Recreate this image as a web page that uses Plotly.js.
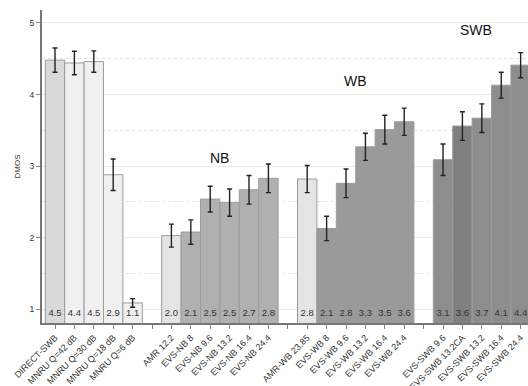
<!DOCTYPE html>
<html>
<head>
<meta charset="utf-8">
<script src="https://cdn.plot.ly/plotly-3.0.1.min.js"></script>
<style>html,body{margin:0;padding:0;background:#fff;}#chart{width:528px;height:386px;}</style>
</head>
<body>
<div id="chart"></div>
<script>
// ---- data ----
const refCats = ["DIRECT-SWB", "MNRU Q=42 dB", "MNRU Q=30 dB", "MNRU Q=18 dB", "MNRU Q=6 dB"];
const refVals = [4.48, 4.44, 4.46, 2.88, 1.09];
const refErr  = [0.17, 0.165, 0.15, 0.22, 0.06];

const nbCats = ["AMR 12.2", "EVS-NB 8", "EVS-NB 9.6", "EVS-NB 13.2", "EVS-NB 16.4", "EVS-NB 24.4"];
const nbVals = [2.03, 2.08, 2.54, 2.49, 2.67, 2.83];
const nbErr  = [0.16, 0.17, 0.18, 0.19, 0.20, 0.20];

const wbCats = ["AMR-WB 23.85", "EVS-WB 8", "EVS-WB 9.6", "EVS-WB 13.2", "EVS-WB 16.4", "EVS-WB 24.4"];
const wbVals = [2.82, 2.13, 2.76, 3.27, 3.51, 3.62];
const wbErr  = [0.19, 0.17, 0.20, 0.19, 0.20, 0.19];

const swbCats = ["EVS-SWB 9.6", "EVS-SWB 13.2CA", "EVS-SWB 13.2", "EVS-SWB 16.4", "EVS-SWB 24.4"];
const swbVals = [3.09, 3.56, 3.67, 4.13, 4.41];
const swbErr  = [0.22, 0.20, 0.20, 0.18, 0.175];

const groupNames = ["", "NB", "WB", "SWB"];

// ---- build ----
const groups = [
  {cats: refCats, vals: refVals, err: refErr},
  {cats: nbCats, vals: nbVals, err: nbErr},
  {cats: wbCats, vals: wbVals, err: wbErr},
  {cats: swbCats, vals: swbVals, err: swbErr}
];
function colorFor(name) {
  if (name === "DIRECT-SWB") return "#d9d9d9";
  if (name.startsWith("MNRU")) return "#f0f0f0";
  if (name.startsWith("AMR")) return "#e4e4e4";
  if (name.startsWith("EVS-NB")) return "#b0b0b0";
  if (name.startsWith("EVS-WB")) return "#9a9a9a";
  if (name === "EVS-SWB 13.2CA") return "#7f7f7f";
  return "#8d8d8d";
}
const xs = [], ys = [], es = [], cols = [], labels = [], tickvals = [], ticktext = [];
const groupCenters = [];
let pos = 0;
groups.forEach((g, gi) => {
  if (gi > 0) { tickvals.push(pos); ticktext.push(""); pos++; }
  const start = pos;
  g.cats.forEach((c, i) => {
    xs.push(pos); ys.push(g.vals[i]); es.push(g.err[i]);
    cols.push(colorFor(c)); labels.push(g.vals[i].toFixed(1));
    tickvals.push(pos); ticktext.push(c);
    pos++;
  });
  groupCenters.push((start + pos - 1) / 2);
});

const font = "Liberation Sans, Arial, Helvetica, sans-serif";
const traces = [
  {
    type: "bar", x: xs, y: ys, width: 1,
    marker: {color: cols, line: {color: "#9c9c9c", width: 1}},
    error_y: {type: "data", array: es, visible: true, color: "#222", thickness: 1.4, width: 2.5},
    hoverinfo: "skip", showlegend: false
  },
  {
    type: "scatter", mode: "text", x: xs, y: xs.map(() => 0.945), text: labels,
    textfont: {family: font, size: 9.5, color: "#333"}, textposition: "middle center",
    hoverinfo: "skip", showlegend: false, cliponaxis: false
  }
];

const annYs = [null, 3.11, 4.19, 4.90];
const annotations = [];
groupNames.forEach((n, i) => {
  if (!n) return;
  annotations.push({
    x: groupCenters[i] + (n === "SWB" ? -0.3 : 0), y: annYs[i], xref: "x", yref: "y",
    text: n, showarrow: false, font: {family: font, size: 14, color: "#111"}
  });
});

const layout = {
  width: 528, height: 386,
  margin: {l: 42, r: 0, t: 10, b: 63},
  paper_bgcolor: "#fff", plot_bgcolor: "#fff",
  bargap: 0,
  xaxis: {
    range: [-0.67, 24.38], tickvals: tickvals, ticktext: ticktext, tickangle: -45,
    tickfont: {family: font, size: 9, color: "#333"},
    ticks: "outside", ticklen: 4, tickcolor: "#888", tickwidth: 1,
    showline: true, linecolor: "#777", linewidth: 2,
    showgrid: false, zeroline: false, fixedrange: true
  },
  yaxis: {
    range: [0.81, 5.18], tickvals: [1, 2, 3, 4, 5],
    tickfont: {family: font, size: 8.5, color: "#333"},
    ticks: "outside", ticklen: 4, tickcolor: "#888",
    showline: true, linecolor: "#777", linewidth: 2,
    showgrid: true, gridcolor: "#ebebeb", gridwidth: 1,
    minor: {dtick: 0.5, tick0: 0.5, showgrid: true, gridcolor: "#e2e2e2", griddash: "dot", ticks: ""},
    zeroline: false,
    title: {text: "DMOS", font: {family: font, size: 8, color: "#333"}, standoff: 8}
  },
  annotations: annotations,
  font: {family: font}
};

Plotly.newPlot("chart", traces, layout, {staticPlot: true, displayModeBar: false});
</script>
</body>
</html>
